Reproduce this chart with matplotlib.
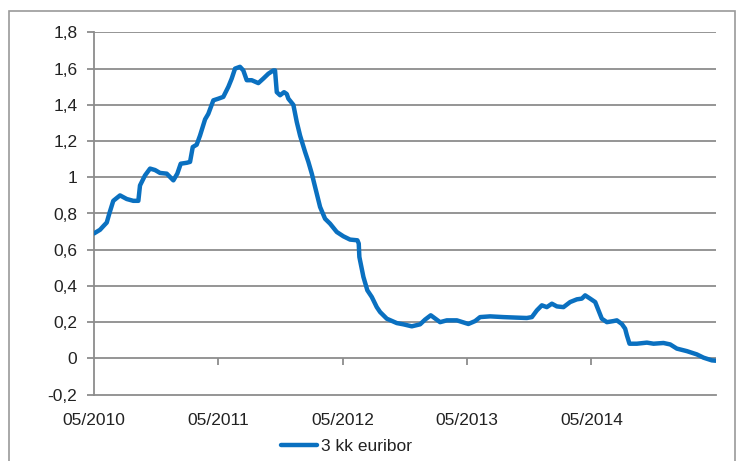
import matplotlib
matplotlib.use("Agg")
import matplotlib.pyplot as plt
from matplotlib.patches import Rectangle

plt.rcParams['font.family'] = ['Liberation Sans', 'DejaVu Sans']

# months since 05/2010
months = [0, 0.58, 0.90, 1.23, 1.48, 1.86, 2.51, 3.16, 3.79, 4.28, 4.44, 4.92, 5.41,
          5.89, 6.37, 7.02, 7.66, 8.04, 8.37, 8.95, 9.27, 9.53, 9.91, 10.23, 10.72,
          11.03, 11.52, 12.0, 12.48, 12.97, 13.29, 13.61, 14.09, 14.41, 14.74, 15.22,
          15.86, 16.34, 16.83, 17.31, 17.47, 17.64, 17.96, 18.34, 18.60, 18.76, 19.24,
          19.57, 19.89, 20.37, 20.69, 21.02, 21.34, 21.82, 22.30, 22.78, 23.43, 24.07,
          24.71, 25.42, 25.55, 25.61, 26.0, 26.38, 26.81, 27.29, 27.61, 28.26, 29.22,
          29.86, 30.67, 31.47, 31.95, 32.50, 33.40, 34.05, 35.02, 36.13, 36.78, 37.26,
          38.23, 39.51, 40.81, 41.77, 42.26, 42.74, 43.22, 43.70, 44.19, 44.67, 45.31,
          45.95, 46.60, 47.08, 47.40, 47.88, 48.37, 48.69, 49.01, 49.50, 50.13, 50.46,
          50.94, 51.26, 51.43, 51.68, 52.39, 53.36, 54.0, 54.96, 55.61, 56.25, 57.22,
          58.18, 58.82, 59.63, 60.0]
euribor = [0.69, 0.71, 0.73, 0.75, 0.80, 0.87, 0.90, 0.88, 0.87, 0.87, 0.955, 1.01, 1.048,
           1.04, 1.024, 1.02, 0.983, 1.02, 1.075, 1.08, 1.085, 1.167, 1.18, 1.23, 1.32,
           1.35, 1.425, 1.434, 1.444, 1.50, 1.545, 1.60, 1.61, 1.59, 1.536, 1.536,
           1.52, 1.545, 1.572, 1.59, 1.59, 1.47, 1.453, 1.47, 1.46, 1.434, 1.40,
           1.305, 1.23, 1.14, 1.085, 1.02, 0.946, 0.836, 0.771, 0.744, 0.698, 0.674,
           0.656, 0.652, 0.634, 0.56, 0.45, 0.376, 0.339, 0.283, 0.256, 0.219, 0.195,
           0.188, 0.177, 0.188, 0.214, 0.238, 0.20, 0.21, 0.21, 0.19, 0.206, 0.228,
           0.232, 0.228, 0.225, 0.223, 0.228, 0.265, 0.293, 0.283, 0.302, 0.287, 0.283,
           0.311, 0.326, 0.33, 0.348, 0.33, 0.311, 0.265, 0.219, 0.20, 0.206, 0.21,
           0.19, 0.164, 0.127, 0.081, 0.081, 0.087, 0.081, 0.085, 0.077, 0.054, 0.04,
           0.022, 0.004, -0.011, -0.013]

xtick_pos = [0, 12, 24, 36, 48]
xtick_labels = ['05/2010', '05/2011', '05/2012', '05/2013', '05/2014']
yticks = [-0.2, 0, 0.2, 0.4, 0.6, 0.8, 1.0, 1.2, 1.4, 1.6, 1.8]
ytick_labels = ['-0,2', '0', '0,2', '0,4', '0,6', '0,8', '1', '1,2', '1,4', '1,6', '1,8']
series_name = '3 kk euribor'

grid_c = '#8c8c8c'
line_c = '#0a70c0'
text_c = '#222222'
fs = 12.5

fig = plt.figure(figsize=(7.39, 4.61), dpi=100)
fig.patches.append(Rectangle((9/739, -0.1), (735-9)/739, 1.1 - 11/461,
                             transform=fig.transFigure, fill=False,
                             edgecolor='#9a9a9a', linewidth=1.2))

ax = fig.add_axes([94/739, 1-394.6/461, (715.7-94)/739, (394.6-32.4)/461])
ax.set_xlim(0, 60)
ax.set_ylim(-0.2, 1.8)

ax.plot(months, euribor, color=line_c, linewidth=3.2, solid_capstyle='round',
        solid_joinstyle='round', label=series_name, zorder=3)

ax.set_yticks(yticks)
ax.set_yticklabels(ytick_labels)
ax.set_xticks(xtick_pos)
ax.set_xticklabels(xtick_labels)
for t in ax.get_yticks():
    if t > -0.15:
        ax.axhline(t, color=grid_c, linewidth=1.3, zorder=1)

for s in ['top', 'right']:
    ax.spines[s].set_visible(False)
ax.spines['left'].set_color(grid_c)
ax.spines['left'].set_linewidth(1.3)
ax.spines['bottom'].set_color(grid_c)
ax.spines['bottom'].set_linewidth(1.3)

ax.tick_params(axis='y', length=5, width=1.3, color=grid_c, pad=7,
               labelsize=fs, labelcolor=text_c)
ax.tick_params(axis='x', length=0, pad=13, labelsize=fs, labelcolor=text_c)

sec = ax.secondary_xaxis(0.1)
sec.set_xticks(xtick_pos[1:])
sec.set_xticklabels([])
sec.tick_params(axis='x', length=5, width=1.3, color=grid_c, direction='out')
sec.spines['bottom'].set_visible(False)

leg = fig.legend(loc='center', bbox_to_anchor=(346.5/739, 1-446/461), frameon=False,
                 fontsize=fs, handlelength=2.1, handletextpad=0.2,
                 labelcolor=text_c)

fig.savefig('out.png', dpi=100)
